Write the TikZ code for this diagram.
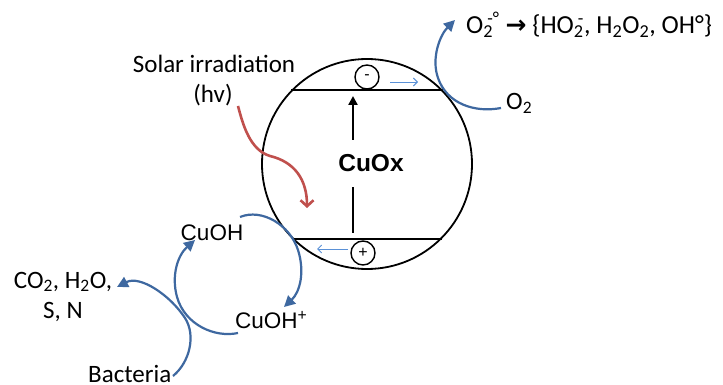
\documentclass[tikz,border=0pt]{standalone}
\usepackage{fontspec}
\setmainfont{Carlito}
\newfontfamily\arialf{Liberation Sans}
\newfontfamily\djv{DejaVu Sans}
\usetikzlibrary{arrows.meta}
\definecolor{flowblue}{RGB}{62,104,160}
\definecolor{lightblue}{RGB}{90,145,215}
\definecolor{sunred}{RGB}{192,80,77}
\newcommand\fsz[1]{\fontsize{#1}{#1}\selectfont}
\tikzset{
  lbl/.style={inner sep=0pt, font=\fsz{25}},
  chem/.style={inner sep=0pt, font=\arialf\fsz{22.5}},
  flow/.style={draw=flowblue, line width=2.2pt, -{Triangle[length=11pt,width=11pt]}},
  carrier/.style={draw=lightblue, line width=0.9pt, -{Straight Barb[length=4pt,width=8pt]}},
  band/.style={draw=black, line width=2pt},
  charge/.style={circle, draw, line width=1.4pt, minimum size=24pt, inner sep=0pt, font=\arialf\fsz{16}}
}
\begin{document}
\begin{tikzpicture}[x=1pt,y=-1pt]
\useasboundingbox[fill=white] (0,0) rectangle (723,385);

% semiconductor particle
\node[circle, draw, line width=1.8pt, minimum size=210pt, inner sep=0pt] (c) at (367,164) {};
\draw[band] (c.136) -- (c.44);
\draw[band] (c.-135) -- (c.-45);
\node[charge] (m) at (367,77) {-};
\node[charge] (p) at (363,253) {+};
\coordinate (ea) at (390,82);  \coordinate (eb) at (418,82);
\coordinate (ha) at (348,249); \coordinate (hb) at (317,249);
\draw[carrier] (ea) -- (eb);
\draw[carrier] (ha) -- (hb);

\node[inner sep=0pt, font=\arialf\bfseries\fsz{24.5}] (cuox) at (371,163) {CuOx};
\coordinate (va) at (353,140); \coordinate (vb) at (353,96);
\coordinate (vc) at (353,187); \coordinate (vd) at (353,233);
\draw[line width=2.4pt, -{Triangle[length=9pt,width=9pt]}] (va) -- (vb);
\draw[line width=2.4pt] (vc) -- (vd);

% solar irradiation
\node[lbl, anchor=base] (solar) at (214,73) {Solar irradiation};
\node[lbl, anchor=base] (hv) at (213,103) {(hv)};
\coordinate (ra) at (238,106);
\coordinate (rm) at (270,156);
\coordinate (rb) at (307,208);
\draw[sunred, line width=2.6pt, -{Straight Barb[length=6pt,width=13pt]}]
  (ra) .. controls (243,125) and (250,150) .. (rm)
       .. controls (295,162) and (307,180) .. (rb);

% oxygen reduction
\node[lbl, anchor=base west, font=\fsz{26}] (ros) at (466,34)
  {O\textsubscript{2}\kern-.22em\textsuperscript{-°} {\djv\bfseries\fsz{25}→} \{HO\textsubscript{2}\kern-.22em\textsuperscript{-}, H\textsubscript{2}O\textsubscript{2}, OH°\}};
\node[lbl, anchor=base west] (o2) at (506,110) {O\textsubscript{2}};
\coordinate (oa) at (501,108);
\coordinate (om) at (438,78);
\coordinate (ob) at (455,20);
\draw[flow] (oa) .. controls (475,113) and (447,104) .. (om)
               .. controls (431,58) and (440,35) .. (ob);

% copper cycle
\node[chem, anchor=base] (cuoh) at (212,240) {CuOH};
\node[chem, anchor=base west] (cuohp) at (235,328) {CuOH\textsuperscript{+}};
\node[lbl, anchor=base] (prod) at (63,288) {CO\textsubscript{2}, H\textsubscript{2}O,};
\node[lbl, anchor=base] (sn) at (63,318) {S, N};
\node[lbl, anchor=base west] (bact) at (88,382) {Bacteria};

\coordinate (b0) at (173,376);
\coordinate (b1) at (185,318);
\coordinate (b2) at (117,287);
\draw[flow] (b0) .. controls (190,362) and (196,335) .. (b1)
                .. controls (170,295) and (140,275) .. (b2);

\coordinate (k0) at (238,333);
\coordinate (k1) at (177,297);
\coordinate (k2) at (195,240);
\draw[flow] (k0) .. controls (215,338) and (185,325) .. (k1)
                .. controls (171,275) and (178,255) .. (k2);

\coordinate (j0) at (240,217);
\coordinate (j1) at (298,250);
\coordinate (j2) at (284,307);
\draw[flow] (j0) .. controls (262,208) and (290,225) .. (j1)
                .. controls (305,272) and (300,292) .. (j2);
\end{tikzpicture}
\end{document}
